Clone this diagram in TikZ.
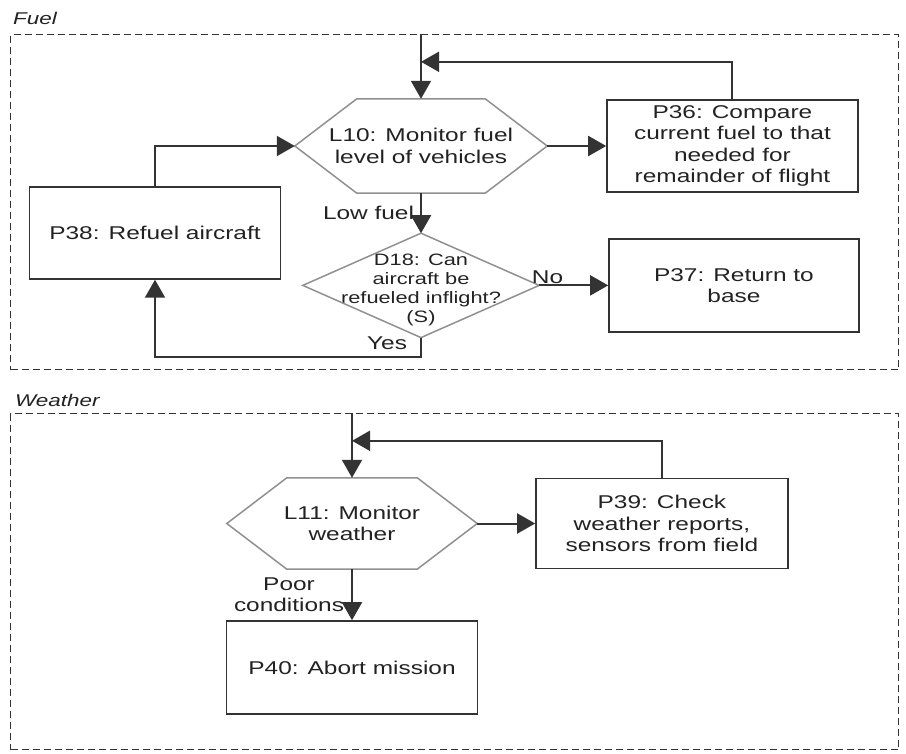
\documentclass[tikz,border=0pt]{standalone}
\usepackage{fontspec}
\setmainfont[FakeStretch=1.32]{Liberation Sans}
\usetikzlibrary{arrows.meta, positioning}
\definecolor{inkdark}{HTML}{333333}
\definecolor{shapegray}{HTML}{909090}
\definecolor{textdark}{HTML}{222222}

\begin{document}
\begin{tikzpicture}[
  x=1pt, y=1pt,
  font=\fontsize{18.5}{21.5}\selectfont,
  text=textdark,
  block/.style={rectangle, draw=inkdark, line width=1.5pt, align=center, minimum width=251pt, minimum height=92pt, inner sep=2pt},
  hexbox/.style={rectangle, align=center, minimum width=251pt, minimum height=92pt, inner sep=0pt},
  decision/.style={rectangle, align=center, minimum width=236pt, minimum height=104pt, inner sep=0pt, text height=78pt, font=\fontsize{16.5}{19}\selectfont},
  outline/.style={draw=shapegray, line width=1.5pt},
  arrow/.style={-{Triangle[length=18pt, width=20pt]}, line width=2pt, draw=inkdark},
  group/.style={rectangle, draw=inkdark, dash pattern=on 7pt off 4pt, line width=1.2pt, anchor=north west, minimum width=888pt, inner sep=0pt},
  grouptitle/.style={anchor=west, font=\fontsize{17}{20}\selectfont\itshape, inner sep=0pt},
  tag/.style={inner sep=1pt, align=center}
]
\useasboundingbox (0,0) rectangle (906,-754);

% Fuel
\node[group, minimum height=335pt] (fuelbox) at (10,-34) {};
\node[grouptitle] (fueltitle) at (13,-18) {Fuel};
\node[hexbox, minimum width=252pt, minimum height=94pt] (l10) at (421,-146) {L10: Monitor fuel\\level of vehicles};
\node[block, right=59pt of l10] (p36) {P36: Compare\\current fuel to that\\needed for\\remainder of flight};
\node[decision, below=40pt of l10] (d18) {D18: Can\\aircraft be\\refueled inflight?\\(S)};
\node[block, right=69pt of d18, minimum width=250pt, minimum height=93pt] (p37) {P37: Return to\\base};
\node[block] (p38) at (155,-233) {P38: Refuel aircraft};
\coordinate (fuelin) at (l10.north |- fuelbox.north);
\coordinate (fuelback) at ([yshift=37pt]l10.north);

\draw[outline] (l10.west) -- ([xshift=62pt]l10.north west) -- ([xshift=-62pt]l10.north east)
  -- (l10.east) -- ([xshift=-62pt]l10.south east) -- ([xshift=62pt]l10.south west) -- cycle;
\draw[outline] (d18.west) -- (d18.north) -- (d18.east) -- (d18.south) -- cycle;

\draw[arrow] (fuelin) -- (l10);
\draw[arrow] (p36.north) |- (fuelback);
\draw[arrow] (l10) -- (p36);
\draw[arrow] (p38.north) |- (l10.west);
\draw[arrow] (l10) -- node[tag, left=5pt] {Low fuel} (d18);
\draw[arrow] (d18) -- node[tag, above, pos=0.12] {No} (p37);
\draw[arrow] (d18.south) -- node[tag, left=12pt, pos=0.3] {Yes} ++(0,-19) -| (p38.south);

% Weather
\node[group, minimum height=336pt] (weatherbox) at (10,-413) {};
\node[grouptitle] (weathertitle) at (15,-400) {Weather};
\node[hexbox, minimum width=250pt, minimum height=91pt] (l11) at (352,-523.5) {L11: Monitor\\weather};
\node[block, right=58pt of l11, minimum width=252pt, minimum height=90pt] (p39) {P39: Check\\weather reports,\\sensors from field};
\node[block, below=51pt of l11, minimum height=93pt] (p40) {P40: Abort mission};
\coordinate (weatherin) at (l11.north |- weatherbox.north);
\coordinate (weatherback) at ([yshift=37pt]l11.north);

\draw[outline] (l11.west) -- ([xshift=60pt]l11.north west) -- ([xshift=-60pt]l11.north east)
  -- (l11.east) -- ([xshift=-60pt]l11.south east) -- ([xshift=60pt]l11.south west) -- cycle;

\draw[arrow] (weatherin) -- (l11);
\draw[arrow] (p39.north) |- (weatherback);
\draw[arrow] (l11) -- (p39);
\draw[arrow] (l11) -- node[tag, left=6pt] {Poor\\conditions} (p40);
\end{tikzpicture}
\end{document}
